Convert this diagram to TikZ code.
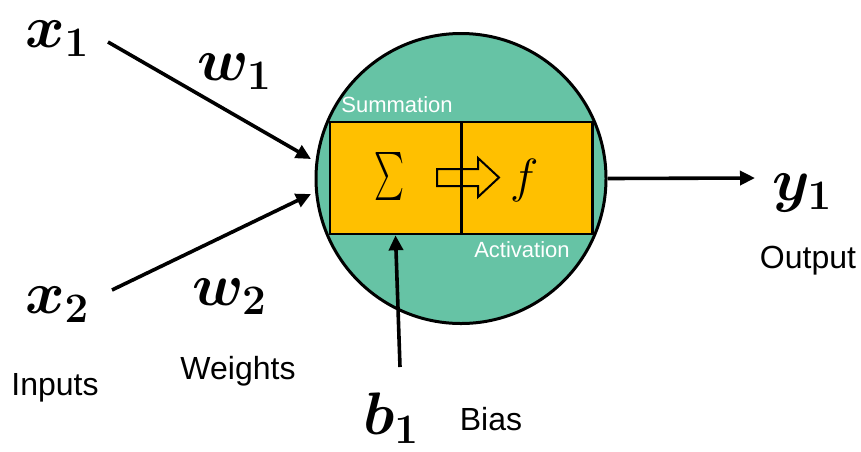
\RequirePackage{fix-cm}
\documentclass[tikz,border=0pt]{standalone}
\usepackage{fontspec}
\usepackage{graphicx}
\usetikzlibrary{arrows.meta}
\newfontfamily\arialf{Liberation Sans}
\definecolor{neurongreen}{RGB}{102,195,165}
\definecolor{boxyellow}{RGB}{255,192,0}
\tikzset{
  conn/.style={line width=3.6pt,-{Triangle[length=15pt,width=14pt]}},
  mathlbl/.style={anchor=base west,inner sep=0pt,font=\fontsize{60}{70}\selectfont\boldmath},
  caption/.style={anchor=base,inner sep=0pt,font=\arialf\fontsize{32}{38}\selectfont},
  innerlbl/.style={anchor=base,inner sep=0pt,text=white,font=\arialf\fontsize{22}{26}\selectfont},
  halfbox/.style={draw,line width=2.6pt,fill=boxyellow,minimum width=131pt,minimum height=112pt,inner sep=0pt}
}
\begin{document}
\begin{tikzpicture}[x=1pt,y=-1pt]
\useasboundingbox (0,0) rectangle (861,451);
% neuron body
\node[circle,draw,line width=3pt,fill=neurongreen,minimum size=290pt,inner sep=0pt] (neuron) at (461,178.5) {};
\node[halfbox] (sumbox) at (395.5,178) {};
\node[halfbox] (actbox) at (527,178) {};
\node[inner sep=0pt] (sigma) at (389,176) {\resizebox*{30pt}{48pt}{$\textstyle\sum$}};
\node[inner sep=0pt,font=\fontsize{48}{52}\selectfont] (func) at (525,180) {$f$};
\draw[line width=2pt,line join=miter] (437,169) -- (478,169) -- (478,158) -- (499,177.5) -- (478,197) -- (478,186) -- (437,186) -- cycle;
\node[innerlbl] (summ) at (397,112) {Summation};
\node[innerlbl] (activ) at (522,257) {Activation};
% labels
\node[mathlbl] (x1) at (25,47) {$x_1$};
\node[mathlbl] (x2) at (25,313) {$x_2$};
\node[mathlbl] (w1) at (197,80) {$w_1$};
\node[mathlbl] (w2) at (192,305) {$w_2$};
\node[mathlbl] (y1) at (772,200) {$y_1$};
\node[mathlbl] (b1) at (363,434) {$b_1$};
\node[caption] (inputs) at (55,395) {Inputs};
\node[caption] (weights) at (238,379) {Weights};
\node[caption] (bias) at (491,430) {Bias};
\node[caption] (output) at (808,268) {Output};
% connector endpoints
\coordinate (x1s) at (108,42);
\coordinate (x1e) at (311,159);
\coordinate (x2s) at (112,290);
\coordinate (x2e) at (311,194);
\coordinate (b1s) at (400,367);
\coordinate (y1e) at (755,178);
\draw[conn] (x1s) -- (x1e);
\draw[conn] (x2s) -- (x2e);
\draw[conn] (b1s) -- (sumbox.south);
\draw[conn] (neuron.east) -- (y1e);
\end{tikzpicture}
\end{document}
